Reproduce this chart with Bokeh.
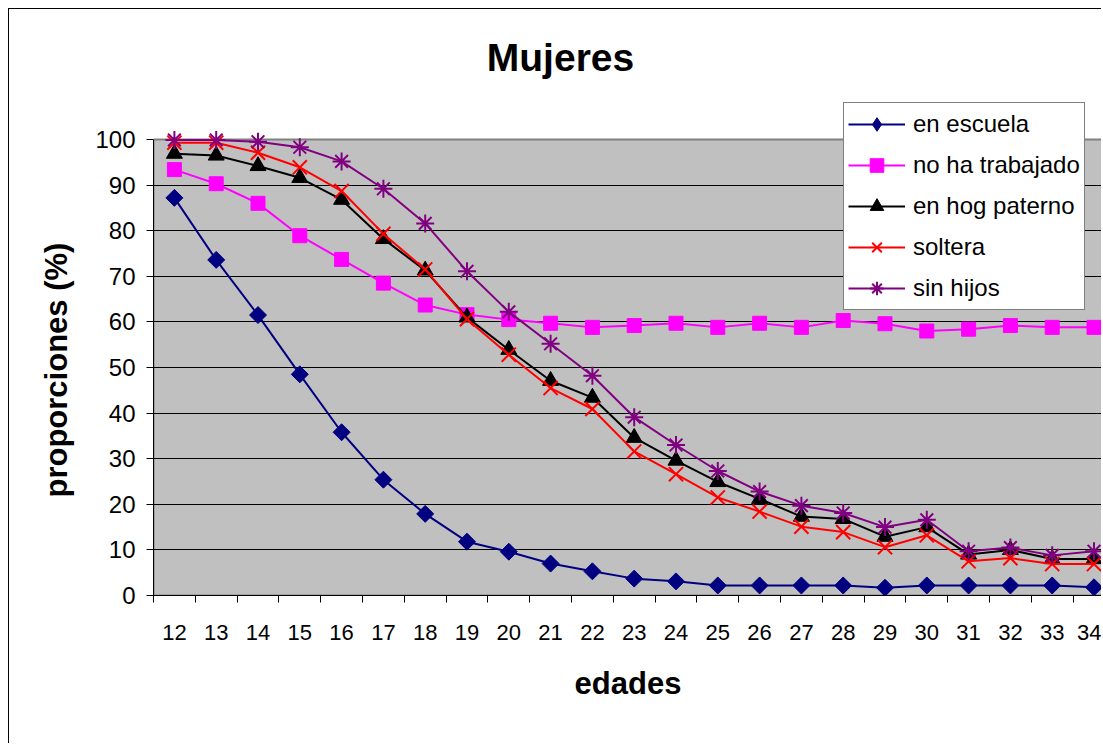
import numpy as np
from bokeh.plotting import figure
from bokeh.models import FixedTicker, Legend, LegendItem, Label, Range1d, Title
from bokeh.embed import file_html
from bokeh.resources import INLINE

# ---------------- data ----------------
edades = list(range(12, 35))
en_escuela = [87.2, 73.6, 61.5, 48.5, 35.8, 25.4, 17.9, 11.8, 9.6, 7.0, 5.3, 3.7,
              3.1, 2.2, 2.2, 2.2, 2.2, 1.7, 2.2, 2.2, 2.2, 2.2, 1.8]
no_ha_trabajado = [93.4, 90.3, 86.0, 78.9, 73.7, 68.5, 63.7, 61.6, 60.5, 59.7, 58.8, 59.2,
                   59.7, 58.8, 59.7, 58.8, 60.3, 59.6, 58.0, 58.4, 59.2, 58.8, 58.8]
en_hog_paterno = [96.9, 96.5, 94.2, 91.6, 86.8, 78.2, 71.3, 61.0, 53.9, 47.1, 43.4, 34.6,
                  29.6, 24.9, 21.2, 17.3, 16.8, 12.9, 15.0, 9.0, 10.0, 8.0, 8.0]
soltera = [99.3, 99.3, 97.1, 93.9, 88.7, 79.3, 71.5, 60.6, 52.8, 45.5, 40.9, 31.6,
           26.6, 21.5, 18.4, 15.1, 13.9, 10.6, 13.2, 7.5, 8.2, 6.9, 6.9]
sin_hijos = [99.9, 99.9, 99.5, 98.3, 95.2, 89.2, 81.6, 71.1, 62.2, 55.2, 48.2, 39.1,
             33.0, 27.3, 22.8, 19.7, 18.1, 15.0, 16.6, 9.7, 10.5, 8.8, 9.7]
y_ticks = list(range(0, 101, 10))

FONT = "Liberation Sans"

W, H = 1093, 735
FRAME_LEFT, FRAME_BOTTOM_BORDER = 144, 149
frame_h = H - FRAME_BOTTOM_BORDER          # frame spans whole height above x axis
px_per_unit = 456 / 100.0
px_per_cat = 41.8
y_top = frame_h / px_per_unit
x_end = 11.5 + (W - FRAME_LEFT) / px_per_cat

p = figure(width=W, height=H, output_backend="svg", toolbar_location=None,
           x_range=Range1d(edades[0] - 0.5, x_end), y_range=Range1d(0, y_top),
           min_border_left=FRAME_LEFT, min_border_top=0,
           min_border_bottom=FRAME_BOTTOM_BORDER, min_border_right=0)
p.styles = {"border-left": "1px solid black", "border-top": "1px solid black",
            "margin-left": "8px", "margin-top": "8px"}
p.background_fill_color = "white"
p.border_fill_color = "white"
p.outline_line_color = None

# grey plot area
p.quad(left=[edades[0] - 0.5], right=[edades[-1] + 0.5], bottom=[y_ticks[0]], top=[y_ticks[-1]],
       fill_color="#C0C0C0", line_color="#808080", line_width=2, level="image")

# axes
p.xaxis.ticker = FixedTicker(ticks=edades, minor_ticks=[a - 0.5 for a in edades] + [edades[-1] + 0.5])
p.xaxis.major_tick_out = 0
p.xaxis.major_tick_in = 0
p.xaxis.minor_tick_out = 7
p.xaxis.minor_tick_in = 0
p.xaxis.minor_tick_line_color = "black"
p.xaxis.axis_line_color = "black"
p.xaxis.major_label_text_font = FONT
p.xaxis.major_label_text_font_size = "22px"
p.xaxis.major_label_text_color = "black"
p.xaxis.major_label_standoff = 22
p.xaxis.axis_label = "edades"
p.xaxis.axis_label_text_font = FONT
p.xaxis.axis_label_text_font_size = "31px"
p.xaxis.axis_label_text_font_style = "bold"
p.xaxis.axis_label_text_color = "black"
p.xaxis.axis_label_standoff = 23

p.yaxis.ticker = FixedTicker(ticks=y_ticks, minor_ticks=[])
p.yaxis.bounds = (y_ticks[0], y_ticks[-1])
p.yaxis.major_tick_out = 7
p.yaxis.major_tick_in = 0
p.yaxis.major_tick_line_color = "black"
p.yaxis.axis_line_color = "black"
p.yaxis.major_label_text_font = FONT
p.yaxis.major_label_text_font_size = "24px"
p.yaxis.major_label_text_color = "black"
p.yaxis.major_label_standoff = 11

ytitle = Title(text="proporciones (%)", align="left", offset=98, standoff=38,
               text_font=FONT, text_font_size="31px", text_font_style="bold",
               text_color="black")
p.add_layout(ytitle, "left")

p.xgrid.visible = False
p.ygrid.ticker = FixedTicker(ticks=y_ticks[1:-1])
p.ygrid.grid_line_color = "black"
p.ygrid.grid_line_width = 1

items = []

r1 = p.line(edades, en_escuela, line_color="#000080", line_width=2)
m1 = p.scatter(edades, en_escuela, marker="square", angle=np.pi / 4, size=12,
               fill_color="#000080", line_color="#000080")
# legend swatch as a true diamond (legend swatches ignore marker angle); hidden on the plot
m1_leg = p.scatter(edades, en_escuela, marker="diamond", size=20,
                   fill_color="#000080", line_color="#000080", visible=False)
items.append(LegendItem(label="en escuela", renderers=[r1, m1_leg]))

r2 = p.line(edades, no_ha_trabajado, line_color="#FF00FF", line_width=2)
m2 = p.scatter(edades, no_ha_trabajado, marker="square", size=14,
               fill_color="#FF00FF", line_color="#FF00FF")
items.append(LegendItem(label="no ha trabajado", renderers=[r2, m2]))

r3 = p.line(edades, en_hog_paterno, line_color="black", line_width=2)
m3 = p.scatter(edades, en_hog_paterno, marker="triangle", size=16,
               fill_color="black", line_color="black")
items.append(LegendItem(label="en hog paterno", renderers=[r3, m3]))

r4 = p.line(edades, soltera, line_color="#FF0000", line_width=2)
m4 = p.scatter(edades, soltera, marker="x", size=20, line_color="#FF0000", line_width=2)
items.append(LegendItem(label="soltera", renderers=[r4, m4]))

r5 = p.line(edades, sin_hijos, line_color="#800080", line_width=2)
m5 = p.scatter(edades, sin_hijos, marker="asterisk", size=18, line_color="#800080", line_width=2)
items.append(LegendItem(label="sin hijos", renderers=[r5, m5]))

legend = Legend(items=items, location=(690, 285), glyph_width=57, glyph_height=34,
                label_height=24, spacing=7, padding=4, label_standoff=8,
                label_text_font=FONT, label_text_font_size="24px",
                label_text_color="black",
                border_line_color="black", border_line_width=1,
                background_fill_color="white", background_fill_alpha=1.0, margin=0)
p.add_layout(legend)

title = Label(x=407, y=538, x_units="screen", y_units="screen", text="Mujeres",
              text_font=FONT, text_font_size="39px", text_font_style="bold",
              text_align="center", text_baseline="middle", text_color="black")
p.add_layout(title)

open("out.html", "w").write(file_html(p, INLINE))
